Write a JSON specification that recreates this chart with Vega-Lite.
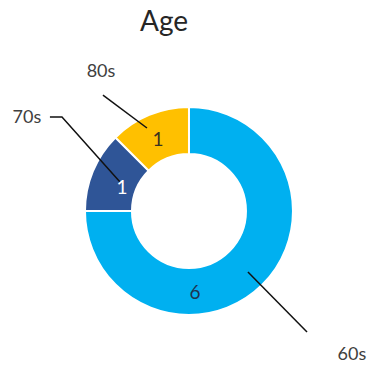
{
  "$schema": "https://vega.github.io/schema/vega-lite/v6.json",
  "width": 374,
  "height": 367,
  "autosize": {"type": "fit", "contains": "padding"},
  "padding": 0,
  "background": "white",
  "config": {"view": {"stroke": null}},
  "datasets": {
    "slices": [
      {"age": "60s", "count": 6, "ord": 1},
      {"age": "70s", "count": 1, "ord": 2},
      {"age": "80s", "count": 1, "ord": 3}
    ],
    "catlabels": [
      {"age": "80s", "x": -0.846, "y": 1.337},
      {"age": "70s", "x": -1.558, "y": 0.894},
      {"age": "60s", "x": 1.567, "y": -1.385}
    ],
    "vallabels": [
      {"age": "80s", "count": 1, "x": -0.298, "y": 0.683},
      {"age": "70s", "count": 1, "x": -0.644, "y": 0.221},
      {"age": "60s", "count": 6, "x": 0.058, "y": -0.788}
    ],
    "leaders": [
      {"age": "80s", "seq": 1, "x": -0.827, "y": 1.115},
      {"age": "80s", "seq": 2, "x": -0.404, "y": 0.798},
      {"age": "70s", "seq": 1, "x": -1.337, "y": 0.904},
      {"age": "70s", "seq": 2, "x": -1.221, "y": 0.904},
      {"age": "70s", "seq": 3, "x": -0.663, "y": 0.279},
      {"age": "60s", "seq": 1, "x": 0.567, "y": -0.587},
      {"age": "60s", "seq": 2, "x": 1.135, "y": -1.163}
    ],
    "titles": [
      {"text": "Age", "x": -0.24, "y": 1.808}
    ]
  },
  "layer": [
    {
      "data": {"name": "slices"},
      "mark": {"type": "arc", "innerRadius": 57, "outerRadius": 104, "stroke": "white", "strokeWidth": 2},
      "encoding": {
        "theta": {"field": "count", "type": "quantitative", "stack": true},
        "order": {"field": "ord", "type": "quantitative"},
        "color": {"field": "age", "type": "nominal", "legend": null,
          "scale": {"domain": ["60s", "70s", "80s"], "range": ["#00B0F0", "#2F5597", "#FFC000"]}},
        "x": {"datum": 0, "type": "quantitative", "axis": null, "scale": {"domain": [-1.817, 1.779], "nice": false, "zero": false}},
        "y": {"datum": 0, "type": "quantitative", "axis": null, "scale": {"domain": [-1.5, 2.029], "nice": false, "zero": false}}
      }
    },
    {
      "data": {"name": "leaders"},
      "mark": {"type": "line", "color": "#111111", "strokeWidth": 1.5},
      "encoding": {
        "x": {"field": "x", "type": "quantitative", "axis": null, "scale": {"domain": [-1.817, 1.779], "nice": false, "zero": false}},
        "y": {"field": "y", "type": "quantitative", "axis": null, "scale": {"domain": [-1.5, 2.029], "nice": false, "zero": false}},
        "detail": {"field": "age"},
        "order": {"field": "seq", "type": "quantitative"}
      }
    },
    {
      "data": {"name": "vallabels"},
      "mark": {"type": "text", "font": "Lato", "fontSize": 19, "align": "center", "baseline": "middle"},
      "encoding": {
        "x": {"field": "x", "type": "quantitative", "axis": null, "scale": {"domain": [-1.817, 1.779], "nice": false, "zero": false}},
        "y": {"field": "y", "type": "quantitative", "axis": null, "scale": {"domain": [-1.5, 2.029], "nice": false, "zero": false}},
        "text": {"field": "count"},
        "color": {"field": "age", "type": "nominal", "legend": null,
          "scale": {"domain": ["60s", "70s", "80s"], "range": ["#1F3450", "#FFFFFF", "#3A3320"]}}
      }
    },
    {
      "data": {"name": "catlabels"},
      "mark": {"type": "text", "font": "Lato", "fontSize": 18, "align": "center", "baseline": "middle", "color": "#404040"},
      "encoding": {
        "x": {"field": "x", "type": "quantitative", "axis": null, "scale": {"domain": [-1.817, 1.779], "nice": false, "zero": false}},
        "y": {"field": "y", "type": "quantitative", "axis": null, "scale": {"domain": [-1.5, 2.029], "nice": false, "zero": false}},
        "text": {"field": "age"}
      }
    },
    {
      "data": {"name": "titles"},
      "mark": {"type": "text", "font": "Lato", "fontSize": 28, "align": "center", "baseline": "middle", "color": "#262626"},
      "encoding": {
        "x": {"field": "x", "type": "quantitative", "axis": null, "scale": {"domain": [-1.817, 1.779], "nice": false, "zero": false}},
        "y": {"field": "y", "type": "quantitative", "axis": null, "scale": {"domain": [-1.5, 2.029], "nice": false, "zero": false}},
        "text": {"field": "text"}
      }
    }
  ],
  "resolve": {"scale": {"color": "independent"}}
}
